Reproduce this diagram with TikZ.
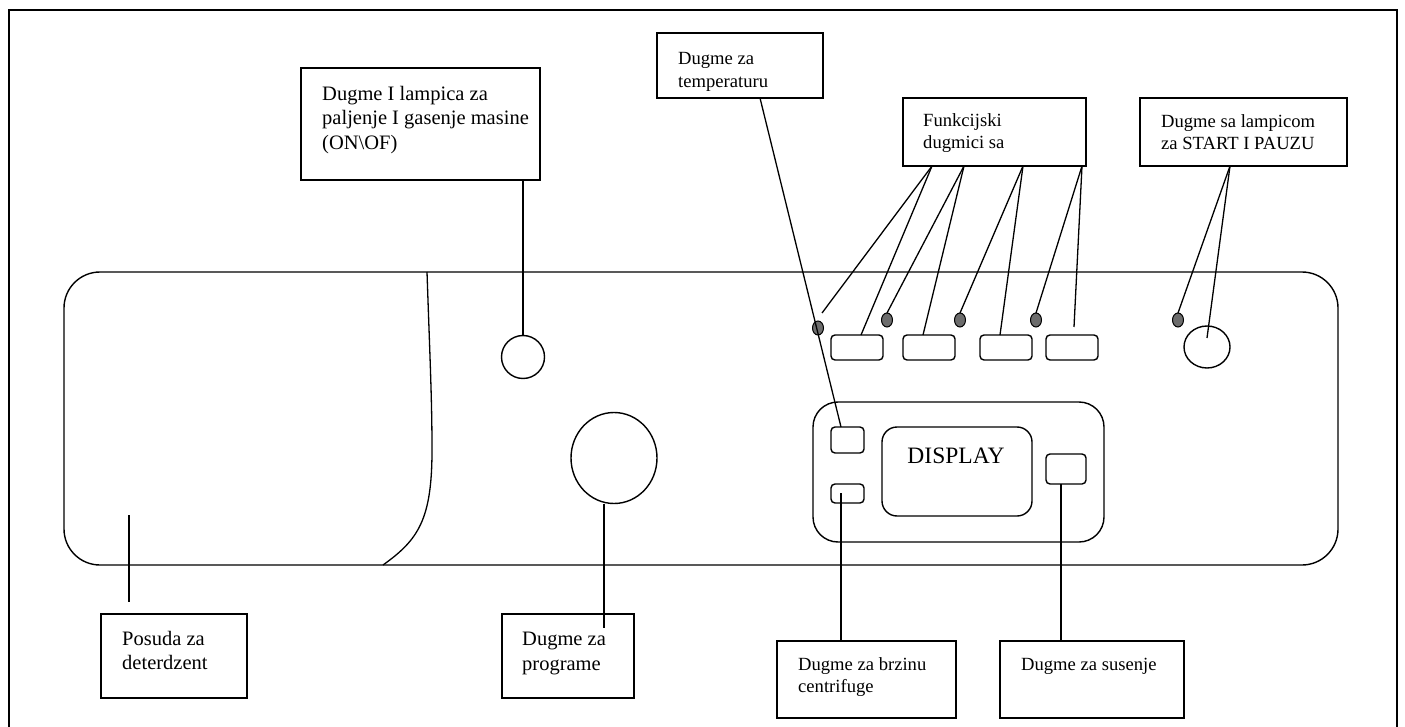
\documentclass[tikz,border=0pt]{standalone}
\usepackage{fontspec}
\setmainfont{Liberation Serif}
\usetikzlibrary{shapes.geometric}
\begin{document}
\begin{tikzpicture}[x=1pt,y=-1pt,
  lbl/.style={draw, line width=1.6, inner sep=0, outer sep=0, anchor=north west},
  txta/.style={font=\fontsize{20.5}{24.5}\selectfont, align=left, inner sep=0, anchor=north west},
  txtb/.style={font=\fontsize{18.6}{22.8}\selectfont, align=left, inner sep=0, anchor=north west},
  conn/.style={line width=1.3},
  part/.style={draw, line width=1.4, inner sep=0, outer sep=0},
  btn/.style={part, rectangle, rounded corners=4},
  led/.style={draw, line width=1.0, fill=gray!85!black, ellipse, minimum width=11, minimum height=14, inner sep=0, outer sep=0},
]
\useasboundingbox (0,0) rectangle (1405,727);
% outer frame
\draw[line width=1.3] (9,10) rectangle (1397,745);

% panel
\node[part, rectangle, rounded corners=36, minimum width=1274, minimum height=293, anchor=north west] (panel) at (64,272) {};
% detergent drawer outline
\draw[line width=1.3] (427,272) .. controls (430,360) and (432,400) .. (432,450)
      .. controls (432,520) and (418,540) .. (383,565);

% buttons on the panel
\node[part, circle, minimum size=43] (onbtn) at (523,357) {};
\node[part, ellipse, minimum width=86, minimum height=91] (progbtn) at (614,458) {};

\node[led] (led0) at (818,328) {};
\node[led] (led1) at (887,320) {};
\node[led] (led2) at (960,320) {};
\node[led] (led3) at (1036,320) {};
\node[led] (led4) at (1178,320) {};

\node[btn, minimum width=52, minimum height=25, anchor=north west] (f1) at (831,335) {};
\node[btn, minimum width=52, minimum height=25, anchor=north west] (f2) at (903,335) {};
\node[btn, minimum width=52, minimum height=25, anchor=north west] (f3) at (980,335) {};
\node[btn, minimum width=52, minimum height=25, anchor=north west] (f4) at (1046,335) {};
\node[part, ellipse, minimum width=46, minimum height=42] (startbtn) at (1207,347) {};

% display unit
\node[part, rectangle, rounded corners=25, minimum width=291, minimum height=140, anchor=north west] (dispunit) at (813,402) {};
\node[btn, minimum width=33, minimum height=26, anchor=north west] (tbtn) at (831,427) {};
\node[btn, minimum width=33, minimum height=19, anchor=north west] (sbtn) at (831,484) {};
\node[part, rectangle, rounded corners=15, minimum width=150, minimum height=89, anchor=north west] (screen) at (882,427) {};
\node[font=\fontsize{23.5}{28}\selectfont, inner sep=0] (disptxt) at (956,456) {DISPLAY};
\node[btn, minimum width=40, minimum height=30, anchor=north west] (dbtn) at (1046,454) {};

% label boxes
\node[lbl, minimum width=239, minimum height=112] (on) at (301,68) {};
\node[txta] (ont) at ([shift={(21,18)}]on.north west) {Dugme I lampica za\\paljenje I gasenje masine\\(ON\textbackslash OF)};

\node[lbl, minimum width=166, minimum height=65] (temp) at (657,33) {};
\node[txtb] (tempt) at ([shift={(21,19)}]temp.north west) {Dugme za\\temperaturu};

\node[lbl, minimum width=183, minimum height=68] (func) at (903,98) {};
\node[txtb] (funct) at ([shift={(20,15)}]func.north west) {Funkcijski\\dugmici sa};

\node[lbl, minimum width=207, minimum height=68] (start) at (1140,98) {};
\node[txtb] (startt) at ([shift={(21,16)}]start.north west) {Dugme sa lampicom\\za START I PAUZU};

\node[lbl, minimum width=146, minimum height=84] (posuda) at (101,614) {};
\node[txta] (posudat) at ([shift={(21,17)}]posuda.north west) {Posuda za\\deterdzent};

\node[lbl, minimum width=132, minimum height=84] (prog) at (502,614) {};
\node[txta] (progt) at ([shift={(20,18)}]prog.north west) {Dugme za\\programe};

\node[lbl, minimum width=179, minimum height=77] (centr) at (777,641) {};
\node[txtb] (centrt) at ([shift={(21,16)}]centr.north west) {Dugme za brzinu\\centrifuge};

\node[lbl, minimum width=184, minimum height=77] (dry) at (1000,641) {};
\node[txtb] (dryt) at ([shift={(21,17)}]dry.north west) {Dugme za susenje};

% free line ends
\coordinate (e0) at (822,313);
\coordinate (e4) at (1074,327);
\coordinate (dl) at (129,515);

% connectors
\draw[conn] (on.south -| onbtn.north) -- (onbtn.north);
\draw[conn] ([xshift=103]temp.south west) -- ([xshift=10]tbtn.north west);
\draw[conn] ([xshift=29]func.south west) -- (e0);
\draw[conn] ([xshift=29]func.south west) -- ([xshift=30]f1.north west);
\draw[conn] ([xshift=61]func.south west) -- (led1.north);
\draw[conn] ([xshift=61]func.south west) -- ([xshift=20]f2.north west);
\draw[conn] ([xshift=120]func.south west) -- (led2.north);
\draw[conn] ([xshift=120]func.south west) -- ([xshift=20]f3.north west);
\draw[conn] ([xshift=179]func.south west) -- (led3.north);
\draw[conn] ([xshift=179]func.south west) -- (e4);
\draw[conn] ([xshift=90]start.south west) -- (led4.north);
\draw[conn] ([xshift=90]start.south west) -- ([yshift=-12]startbtn.north);
\draw[conn] (dl) -- ([xshift=28,yshift=12]posuda.north west);
\draw[conn] ([xshift=-10]progbtn.south) -- ([xshift=102,yshift=-14]prog.north west);
\draw[conn] ([xshift=10,yshift=-9]sbtn.north west) -- (centr.north -| sbtn.north west -| 841,0);
\draw[conn] ([xshift=15]dbtn.south west) -- ([xshift=61]dry.north west);
\end{tikzpicture}
\end{document}
